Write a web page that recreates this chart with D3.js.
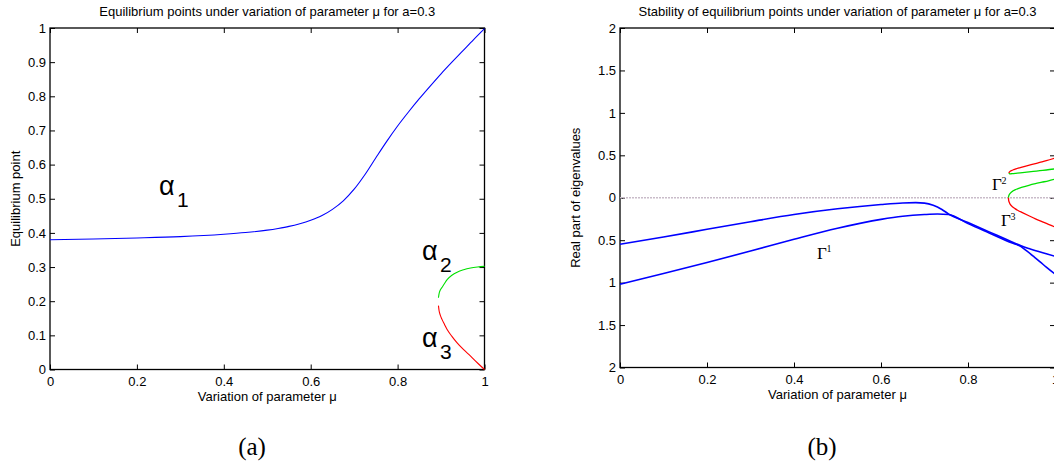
<!DOCTYPE html>
<html>
<head>
<meta charset="utf-8">
<script src="https://cdn.jsdelivr.net/npm/d3@7"></script>
<style>
  html, body { margin: 0; padding: 0; background: #fff; }
  svg { display: block; }
  text { font-family: "Liberation Sans", Arial, Helvetica, sans-serif; }
</style>
</head>
<body>
<svg id="chart" width="1054" height="466"></svg>
<script>
// ---------------- DATA ----------------
// Panel (a): equilibrium points
const muAlpha1 = [0, 0.1, 0.2, 0.3, 0.4, 0.45, 0.5, 0.525, 0.55, 0.575, 0.6, 0.625, 0.65, 0.675, 0.7, 0.725, 0.75, 0.775, 0.8, 0.825, 0.85, 0.875, 0.9, 0.925, 0.95, 0.975, 1.0];
const alpha1   = [0.380, 0.382, 0.385, 0.389, 0.396, 0.401, 0.408, 0.413, 0.419, 0.427, 0.437, 0.450, 0.469, 0.494, 0.528, 0.571, 0.620, 0.668, 0.713, 0.754, 0.793, 0.830, 0.866, 0.900, 0.933, 0.966, 0.998];

const muAlpha23 = [0.894, 0.8955, 0.898, 0.9025, 0.908, 0.914, 0.925, 0.937, 0.952, 0.968, 0.984, 1.0];
const alpha2    = [0.210, 0.222, 0.232, 0.241, 0.252, 0.263, 0.276, 0.285, 0.292, 0.297, 0.300, 0.302];
const alpha3    = [0.187, 0.172, 0.160, 0.146, 0.132, 0.117, 0.097, 0.078, 0.058, 0.039, 0.019, 0.000];

// Panel (b): real part of eigenvalues
const muGamma1Upper = [0, 0.1, 0.2, 0.3, 0.4, 0.5, 0.6, 0.65, 0.68, 0.7, 0.72, 0.74, 0.755, 0.8, 0.85, 0.9, 0.922, 0.94, 0.96, 0.98, 1.0];
const gamma1Upper   = [-0.548, -0.462, -0.372, -0.282, -0.197, -0.130, -0.080, -0.062, -0.058, -0.063, -0.088, -0.138, -0.190, -0.292, -0.405, -0.518, -0.566, -0.598, -0.630, -0.661, -0.690];
const muGamma1Lower = [0, 0.1, 0.2, 0.3, 0.4, 0.5, 0.6, 0.65, 0.7, 0.73, 0.755, 0.8, 0.85, 0.9, 0.922, 0.935, 0.95, 0.965, 0.98, 1.0];
const gamma1Lower   = [-1.020, -0.893, -0.763, -0.628, -0.490, -0.360, -0.255, -0.218, -0.198, -0.192, -0.197, -0.305, -0.418, -0.530, -0.575, -0.627, -0.689, -0.752, -0.818, -0.900];

const muGammaUpperPair = [0.894, 0.895, 0.897, 0.90, 0.905, 0.91, 0.92, 0.935, 0.95, 0.965, 0.98, 1.0];
const gammaRedUpper    = [0.290, 0.302, 0.311, 0.320, 0.331, 0.340, 0.355, 0.376, 0.396, 0.416, 0.436, 0.467];
const gammaGreenUpper  = [0.290, 0.284, 0.282, 0.283, 0.285, 0.288, 0.294, 0.302, 0.310, 0.319, 0.327, 0.340];

const muGammaLowerPair = [0.893, 0.8935, 0.895, 0.898, 0.902, 0.908, 0.915, 0.925, 0.94, 0.955, 0.97, 0.985, 1.0];
const gammaGreenLower  = [0, 0.020, 0.038, 0.058, 0.075, 0.092, 0.108, 0.125, 0.147, 0.166, 0.183, 0.200, 0.220];
const gammaRedLower    = [0, -0.030, -0.055, -0.085, -0.105, -0.128, -0.150, -0.175, -0.212, -0.248, -0.281, -0.313, -0.345];

const muZero = [0, 1];
const zeroLine = [0, 0];

// Ticks
const xTicks = [0, 0.2, 0.4, 0.6, 0.8, 1];
const xTickLabels = ["0", "0.2", "0.4", "0.6", "0.8", "1"];
const leftYTicks = [0, 0.1, 0.2, 0.3, 0.4, 0.5, 0.6, 0.7, 0.8, 0.9, 1];
const leftYTickLabels = ["0", "0.1", "0.2", "0.3", "0.4", "0.5", "0.6", "0.7", "0.8", "0.9", "1"];
const rightYTicks = [-2, -1.5, -1, -0.5, 0, 0.5, 1, 1.5, 2];
const rightYTickLabels = ["2", "1.5", "1", "0.5", "0", "0.5", "1", "1.5", "2"];

// ---------------- DRAWING ----------------
const svg = d3.select("#chart");
svg.append("rect").attr("width", 1054).attr("height", 466).attr("fill", "#fff");

const zip = (xs, ys) => xs.map((x, i) => [x, ys[i]]);

function makePanel(opts) {
  const g = svg.append("g");
  const x = d3.scaleLinear().domain([0, 1]).range([opts.left, opts.right]);
  const y = d3.scaleLinear().domain(opts.yDomain).range([opts.bottom, opts.top]);

  const fmtX = (d, i) => xTickLabels[i];
  const fmtY = (d, i) => opts.yLabels[i];

  const styleAxis = sel => {
    sel.select(".domain").remove();
    sel.selectAll(".tick line").attr("stroke", "#000").attr("stroke-width", 1);
    sel.selectAll(".tick text").attr("fill", "#000").style("font-size", "13px")
      .style("font-family", '"Liberation Sans", Arial, sans-serif');
  };

  g.append("g").attr("transform", `translate(0,${opts.bottom})`)
    .call(d3.axisBottom(x).tickValues(xTicks).tickFormat(fmtX).tickSizeInner(-5).tickSizeOuter(0).tickPadding(7))
    .call(styleAxis);
  g.append("g").attr("transform", `translate(0,${opts.top})`)
    .call(d3.axisTop(x).tickValues(xTicks).tickFormat("").tickSizeInner(-5).tickSizeOuter(0))
    .call(styleAxis);
  g.append("g").attr("transform", `translate(${opts.left},0)`)
    .call(d3.axisLeft(y).tickValues(opts.yTicks).tickFormat(fmtY).tickSizeInner(-5).tickSizeOuter(0).tickPadding(4))
    .call(styleAxis);
  g.append("g").attr("transform", `translate(${opts.right},0)`)
    .call(d3.axisRight(y).tickValues(opts.yTicks).tickFormat("").tickSizeInner(-5).tickSizeOuter(0))
    .call(styleAxis);

  g.append("rect")
    .attr("x", opts.left).attr("y", opts.top)
    .attr("width", opts.right - opts.left).attr("height", opts.bottom - opts.top)
    .attr("fill", "none").attr("stroke", "#000").attr("stroke-width", 1.3);

  const cx = (opts.left + opts.right) / 2;
  g.append("text").attr("x", cx).attr("y", 16).attr("text-anchor", "middle")
    .style("font-size", "13px").attr("fill", "#000").text(opts.title);
  g.append("text").attr("x", cx).attr("y", opts.bottom + 31).attr("text-anchor", "middle")
    .style("font-size", "13px").attr("fill", "#000").text("Variation of parameter μ");
  g.append("text")
    .attr("transform", `translate(${opts.yLabelX},${(opts.top + opts.bottom) / 2}) rotate(-90)`)
    .attr("text-anchor", "middle").style("font-size", "13px").attr("fill", "#000").text(opts.yLabel);
  g.append("text").attr("x", opts.capX).attr("y", 455).attr("text-anchor", "middle")
    .style("font-family", '"Liberation Serif", "Times New Roman", serif').style("font-size", "25px")
    .attr("fill", "#000").text(opts.caption);

  const line = d3.line().x(d => x(d[0])).y(d => y(d[1])).curve(d3.curveMonotoneX);
  return { g, x, y, line };
}

// ----- Panel (a)
const A = makePanel({
  left: 50, right: 484.5, top: 28, bottom: 369.5, yDomain: [0, 1],
  yTicks: leftYTicks, yLabels: leftYTickLabels,
  title: "Equilibrium points under variation of parameter μ for a=0.3",
  yLabel: "Equilibrium point", yLabelX: 20, caption: "(a)", capX: 252
});
A.g.append("path").datum(zip(muAlpha1, alpha1)).attr("d", A.line)
  .attr("fill", "none").attr("stroke", "#0000ff").attr("stroke-width", 1.1);
A.g.append("path").datum(zip(muAlpha23, alpha2)).attr("d", A.line)
  .attr("fill", "none").attr("stroke", "#00e000").attr("stroke-width", 1.1);
A.g.append("path").datum(zip(muAlpha23, alpha3)).attr("d", A.line)
  .attr("fill", "none").attr("stroke", "#ff0000").attr("stroke-width", 1.1);

function alphaLabel(g, xPos, yBase, sub) {
  g.append("text").attr("x", xPos).attr("y", yBase)
    .style("font-size", "27px").attr("fill", "#000").text("α");
  g.append("text").attr("x", xPos + 18).attr("y", yBase + 12)
    .style("font-size", "21px").attr("fill", "#000").text(sub);
}
alphaLabel(A.g, 159, 195, "1");
alphaLabel(A.g, 422, 260, "2");
alphaLabel(A.g, 422, 347, "3");

// ----- Panel (b)
const B = makePanel({
  left: 620, right: 1055, top: 28, bottom: 367.5, yDomain: [-2, 2],
  yTicks: rightYTicks, yLabels: rightYTickLabels,
  title: "Stability of equilibrium points under variation of parameter μ for a=0.3",
  yLabel: "Real part of eigenvalues", yLabelX: 580, caption: "(b)", capX: 822
});
B.g.append("path").datum(zip(muZero, zeroLine)).attr("d", d3.line().x(d => B.x(d[0])).y(d => B.y(d[1])))
  .attr("fill", "none").attr("stroke", "#c9bcc9").attr("stroke-width", 1.3).attr("stroke-dasharray", "2,1");
B.g.append("path").datum(zip(muGamma1Upper, gamma1Upper)).attr("d", B.line)
  .attr("fill", "none").attr("stroke", "#0000ff").attr("stroke-width", 1.6);
B.g.append("path").datum(zip(muGamma1Lower, gamma1Lower)).attr("d", B.line)
  .attr("fill", "none").attr("stroke", "#0000ff").attr("stroke-width", 1.6);
B.g.append("path").datum(zip(muGammaUpperPair, gammaRedUpper)).attr("d", B.line)
  .attr("fill", "none").attr("stroke", "#ff0000").attr("stroke-width", 1.3);
B.g.append("path").datum(zip(muGammaUpperPair, gammaGreenUpper)).attr("d", B.line)
  .attr("fill", "none").attr("stroke", "#00e000").attr("stroke-width", 1.3);
B.g.append("path").datum(zip(muGammaLowerPair, gammaGreenLower)).attr("d", B.line)
  .attr("fill", "none").attr("stroke", "#00e000").attr("stroke-width", 1.3);
B.g.append("path").datum(zip(muGammaLowerPair, gammaRedLower)).attr("d", B.line)
  .attr("fill", "none").attr("stroke", "#ff0000").attr("stroke-width", 1.3);

function gammaLabel(g, xPos, yBase, sup) {
  g.append("text").attr("x", xPos).attr("y", yBase)
    .style("font-family", '"Liberation Serif", "Times New Roman", serif').style("font-size", "17px")
    .attr("fill", "#000").text("Γ");
  g.append("text").attr("x", xPos + 9.5).attr("y", yBase - 6.5)
    .style("font-family", '"Liberation Serif", "Times New Roman", serif').style("font-size", "10px")
    .attr("fill", "#000").text(sup);
}
gammaLabel(B.g, 817, 258.5, "1");
gammaLabel(B.g, 992, 190, "2");
gammaLabel(B.g, 1001, 226, "3");
</script>
</body>
</html>
